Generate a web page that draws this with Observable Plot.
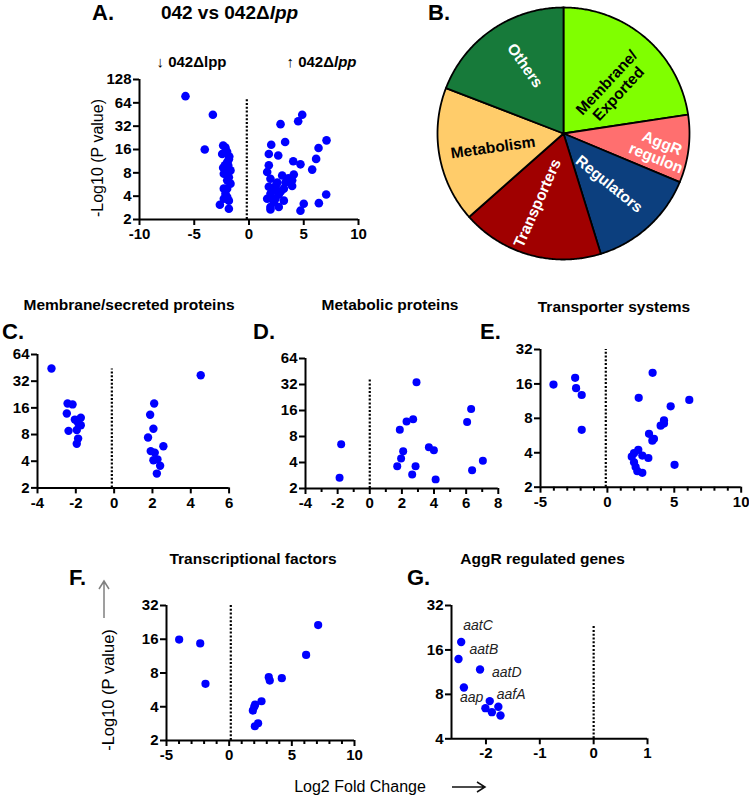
<!DOCTYPE html>
<html><head><meta charset="utf-8">
<script src="https://cdn.jsdelivr.net/npm/d3@7"></script>
<script src="https://cdn.jsdelivr.net/npm/@observablehq/plot@0.6"></script>
<style>
html,body{margin:0;padding:0;background:#fff;}
#root{position:relative;width:749px;height:797px;overflow:hidden;background:#fff;}
#root > svg{position:absolute;margin:0;}
</style></head><body><div id="root"></div>
<script>
// ---------- DATA ----------
// Panel A: all genes [log2 fold change, -log10 p]
const panelA = [
  [-5.8,78],[-3.3,45],[-4.04,16],
  [-2.36,18],[-2.15,17],[-2.45,14],[-2.0,15],[-1.84,12],[-1.99,11],[-1.8,13],[-2.36,9.3],[-2.15,9],
  [-1.69,8.6],[-2.2,10],[-1.9,10],[-2.3,7.8],[-1.84,7],[-1.99,6.4],[-1.69,5.8],[-2.3,5],[-2.0,5],
  [-2.15,4.3],[-1.99,3.9],[-2.3,3.7],[-1.84,3.5],[-2.66,3.1],[-1.84,2.75],
  [4.86,45],[4.49,37],[2.88,34],[7.08,21],[3.3,20],[2.03,18.4],[6.35,16.7],[1.81,14],[2.67,13.4],
  [6.13,12.1],[4.04,11.3],[4.7,10.3],[5.77,8.8],[1.81,10],[1.66,8.2],[1.96,6.7],[3.03,7.4],[4.09,7.6],
  [3.94,6.4],[3.33,6],[2.58,6],[1.81,5.3],[2.42,5.2],[3.18,5],[3.94,5.4],[1.96,4.3],[2.72,4.2],
  [1.66,3.7],[2.42,3.7],[3.18,3.5],[7.05,4.2],[6.38,3.25],[5.0,3.2],[1.96,2.9],[2.72,2.9],[4.7,2.6],
  [1.96,2.7],[2.27,3.35],[2.2,4.8],[2.9,4.6],[3.6,6.8],[2.5,5.7],[2.0,4.0]
];
// Panel C: membrane/secreted proteins
const panelC = [
  [-3.27,44.5],[-2.43,17.9],[-2.17,17.5],[-2.47,13.8],[-2.05,11.8],[-1.74,12.4],[-1.74,10.2],[-1.9,11],
  [-2.38,8.8],[-1.95,9],[-1.88,7.2],[-1.95,6.3],
  [4.52,37.4],[2.09,17.9],[1.88,13.4],[2.05,9.3],[1.77,7.4],[2.57,5.9],[1.91,5.2],[2.12,5],[2.05,4.1],
  [2.26,4.2],[2.4,3.55],[2.23,2.9]
];
// Panel D: metabolic proteins
const panelD = [
  [-1.78,6.5],[-1.88,2.66],[2.91,34],[1.87,9.6],[2.29,11.9],[2.7,12.7],[2.08,5.4],[1.95,4.45],[1.71,3.63],
  [2.85,3.63],[2.64,2.9],[3.68,6.0],[3.99,5.55],[4.1,2.55],[6.06,11.8],[6.31,16.6],[6.37,3.26],[7.04,4.2]
];
// Panel E: transporter systems
const panelE = [
  [-4.03,15.8],[-2.41,18.1],[-2.34,14.7],[-1.92,12.8],[-1.92,6.35],[3.38,20],[2.34,12.1],[6.12,11.6],
  [4.73,10.2],[4.23,7.7],[3.98,6.9],[4.23,7.2],[3.11,5.86],[3.48,5.3],[3.36,5.1],[2.31,4.24],[1.99,3.97],
  [2.61,3.78],[1.82,3.7],[3.06,3.6],[1.99,3.3],[2.11,3.0],[2.24,2.76],[2.61,2.67],[5.02,3.14]
];
// Panel F: transcriptional factors
const panelF = [
  [-3.99,15.9],[-2.31,14.7],[-1.89,6.4],[7.1,21.4],[6.14,11.6],[3.16,7.35],[3.24,6.85],[4.2,7.2],
  [2.58,4.48],[2.07,4.17],[1.89,3.7],[2.0,4.0],[2.31,2.85],[2.05,2.68]
];
// Panel G: AggR regulated genes
const panelG = [
  [-2.46,18.1],[-2.51,13.9],[-2.11,11.8],[-2.41,8.9],[-1.93,7.2],[-1.77,6.6],[-2.01,6.45],[-1.89,6.06],[-1.73,5.75]
];
const gLabels = ["aatC","aatB","aatD","aap","aafA"];
// Panel B: functional categories
const pieCats = ["Membrane/Exported","AggR regulon","Regulators","Transporters","Metabolism","Others"];
const pieCounts = [26,10,16,21,20,22];
const pieLabels = ["Membrane/\nExported","AggR\nregulon","Regulators","Transporters","Metabolism","Others"];
// tick labels
const ticksA = {x:[-10,-5,0,5,10], y:[2,4,8,16,32,64,128]};
const ticksC = {x:[-4,-2,0,2,4,6], y:[2,4,8,16,32,64]};
const ticksD = {x:[-4,-2,0,2,4,6,8], y:[2,4,8,16,32,64]};
const ticksE = {x:[-5,0,5,10], y:[2,4,8,16,32]};
const ticksF = {x:[-5,0,5,10], y:[2,4,8,16,32]};
const ticksG = {x:[-2,-1,0,1], y:[4,8,16,32]};

// ---------- STYLE / LAYOUT ----------
const FONT = '"Liberation Sans", Arial, Helvetica, sans-serif';
const pieColors = ["#80ff00","#ff6f6f","#0c3f7e","#a00000","#ffcc6a","#177a3a"];
const pieLabStyle = [
  {r:0.53, da:6.5, rot:-47, fill:"black"},
  {r:0.77, da:3, rot:22, fill:"white"},
  {r:0.54, da:0, rot:39, fill:"white"},
  {r:0.59, da:5, rot:-66, fill:"white"},
  {r:0.57, da:-1, rot:-8, fill:"black"},
  {r:0.62, da:5, rot:55, fill:"white"}
];
const gOffsets = [[2,-17],[11,-9],[12,3],[-4,10],[7,-7]];
const root = document.getElementById("root");

function volcano(data, cfg) {
  const ml = 60, mr = 14, mt = 12, mb = 34;
  const [X0, X1, Y0, Y1] = cfg.frame;
  const w = X1 - X0 + ml + mr, h = Y0 - Y1 + mt + mb;
  const pts = data.map(([fc, p]) => ({fc, p}));
  const marks = [];
  if (cfg.minor) marks.push(Plot.axisX({ticks: cfg.minor, tickSize: 4, strokeWidth: 2, tickFormat: () => "", label: null}));
  marks.push(
    Plot.axisX({ticks: cfg.ticks.x, tickSize: 6, strokeWidth: 2, tickPadding: 3, label: null, fontSize: 15, fontWeight: "bold", tickFormat: d => String(d)}),
    Plot.axisY({ticks: cfg.ticks.y, tickSize: 6, strokeWidth: 2, tickPadding: 2, label: null, fontSize: 15, fontWeight: "bold", tickFormat: d => String(d)}),
    Plot.ruleY([cfg.ydomain[0]], {strokeWidth: 2}),
    Plot.ruleX([cfg.xdomain[0]], {strokeWidth: 2}),
    Plot.ruleX([cfg.dash[0]], {y1: cfg.ydomain[0], y2: cfg.dash[1], strokeWidth: 2.2, strokeDasharray: "2,1.8"}),
    Plot.dot(pts, {x: "fc", y: "p", r: cfg.r, fill: "#0000ff"})
  );
  if (cfg.extra) marks.push(...cfg.extra(pts));
  const svg = Plot.plot({
    width: w, height: h, marginLeft: ml, marginRight: mr, marginTop: mt, marginBottom: mb,
    x: {domain: cfg.xdomain},
    y: {type: "log", base: 2, domain: cfg.ydomain},
    style: {fontFamily: FONT, fontSize: "15px", fontWeight: "bold", color: "black", background: "transparent", overflow: "visible"},
    marks
  });
  svg.style.left = (X0 - ml) + "px";
  svg.style.top = (Y1 - mt) + "px";
  root.appendChild(svg);
}

const intsMinor = (a, b, step) => d3.range(a, b + 1).filter(v => v % step !== 0);

volcano(panelA, {frame: [139, 358, 219, 79], xdomain: [-10, 10], ydomain: [2, 128], ticks: ticksA, dash: [-0.2, 72], r: 4.3});
volcano(panelC, {frame: [36.7, 228.3, 487.7, 354.3], xdomain: [-4, 6], ydomain: [2, 64], ticks: ticksC, dash: [-0.12, 44], r: 4.2});
volcano(panelD, {frame: [305, 497.8, 488.3, 358.3], xdomain: [-4, 8], ydomain: [2, 64], ticks: ticksD, minor: intsMinor(-4, 8, 2), dash: [0, 36], r: 4.0});
volcano(panelE, {frame: [540, 740.7, 486.7, 349], xdomain: [-5, 10], ydomain: [2, 32], ticks: ticksE, minor: intsMinor(-5, 10, 5), dash: [-0.12, 32], r: 4.1});
volcano(panelF, {frame: [166, 354, 740, 605], xdomain: [-5, 10], ydomain: [2, 32], ticks: ticksF, minor: intsMinor(-5, 10, 5), dash: [0.13, 32], r: 4.1});
volcano(panelG, {frame: [450.7, 646.7, 738.3, 605], xdomain: [-2.64, 1], ydomain: [4, 32], ticks: ticksG, dash: [0, 23.4], r: 4.2,
  extra: pts => gLabels.map((lab, i) => Plot.text([pts[i]], {x: "fc", y: "p", text: () => lab, dx: gOffsets[i][0], dy: gOffsets[i][1],
    textAnchor: "start", fontStyle: "italic", fontWeight: "normal", fontSize: 14, fill: "#222"}))
});

// ---------- PIE (panel B) ----------
const arcs = d3.pie().sort(null)(pieCounts);
const poly = [];
const pieText = [];
arcs.forEach((a, i) => {
  const cat = pieCats[i];
  poly.push({cat, x: 0, y: 0});
  const n = Math.max(2, Math.ceil((a.endAngle - a.startAngle) / 0.01));
  for (let k = 0; k <= n; k++) {
    const t = a.startAngle + (a.endAngle - a.startAngle) * k / n;
    poly.push({cat, x: Math.sin(t), y: Math.cos(t)});
  }
  const s = pieLabStyle[i];
  const mid = (a.startAngle + a.endAngle) / 2 + s.da * Math.PI / 180;
  pieText.push({label: pieLabels[i], x: s.r * Math.sin(mid), y: s.r * Math.cos(mid), rot: s.rot, fill: s.fill});
});
const pie = Plot.plot({
  width: 260, height: 260, margin: 4,
  x: {domain: [-1, 1], axis: null},
  y: {domain: [-1, 1], axis: null},
  color: {domain: pieCats, range: pieColors},
  style: {fontFamily: FONT, background: "transparent", overflow: "visible"},
  marks: [
    Plot.line(poly, {x: "x", y: "y", z: "cat", fill: "cat", stroke: "black", strokeWidth: 1.8, curve: "linear-closed", strokeLinejoin: "round"}),
    Plot.text(pieText.filter(d => d.fill === "white"), {x: "x", y: "y", text: "label", rotate: "rot", fill: "white", fontWeight: "bold", fontSize: 15.5, lineHeight: 1.05}),
    Plot.text(pieText.filter(d => d.fill === "black"), {x: "x", y: "y", text: "label", rotate: "rot", fill: "black", fontWeight: "bold", fontSize: 15.5, lineHeight: 1.05})
  ]
});
pie.style.left = (563 - 130) + "px";
pie.style.top = (133 - 130) + "px";
root.appendChild(pie);

// ---------- TEXT OVERLAY ----------
const ov = d3.select(root).append("svg").attr("width", 749).attr("height", 797)
  .style("position", "absolute").style("left", "0px").style("top", "0px").style("pointer-events", "none")
  .attr("font-family", FONT);
function T(x, y, parts, o = {}) {
  const t = ov.append("text").attr("x", x).attr("y", y)
    .attr("font-size", o.size || 15).attr("font-weight", o.weight || "bold")
    .attr("text-anchor", o.anchor || "start").attr("fill", o.fill || "black");
  if (o.rotate) t.attr("transform", `rotate(${o.rotate},${x},${y})`).attr("dominant-baseline", "central");
  if (typeof parts === "string") parts = [[parts, false]];
  parts.forEach(([s, it]) => t.append("tspan").attr("font-style", it ? "italic" : "normal").text(s));
  return t;
}
// panel letters
T(92, 20, "A.", {size: 22});
T(428, 20, "B.", {size: 22});
T(2, 339, "C.", {size: 22});
T(253, 339, "D.", {size: 22});
T(480, 339, "E.", {size: 22});
T(69, 585, "F.", {size: 22});
T(407, 585, "G.", {size: 22});
// panel A texts
T(229.5, 18.5, [["042 vs 042Δ", false], ["lpp", true]], {size: 19, anchor: "middle"});
T(191.5, 66.5, [["↓ 042Δlpp", false]], {size: 15, anchor: "middle"});
T(321.5, 66.5, [["↑ 042Δ", false], ["lpp", true]], {size: 15, anchor: "middle"});
T(96.5, 158, "-Log10 (P value)", {size: 16, weight: "normal", anchor: "middle", rotate: -90});
// panel titles
T(129, 310, "Membrane/secreted proteins", {size: 15.5, anchor: "middle"});
T(390, 310, "Metabolic proteins", {size: 15.5, anchor: "middle"});
T(614, 312, "Transporter systems", {size: 15.5, anchor: "middle"});
T(253, 564, "Transcriptional factors", {size: 15.5, anchor: "middle"});
T(542.5, 564, "AggR regulated genes", {size: 15.5, anchor: "middle"});
// shared axis labels
T(108, 690, "-Log10 (P value)", {size: 16.5, weight: "normal", anchor: "middle", rotate: -90});
T(360, 792, "Log2 Fold Change", {size: 16, weight: "normal", anchor: "middle"});
// arrows
ov.append("path").attr("d", "M104,618 L104,581 M99,589 L104,581 L109,589")
  .attr("fill", "none").attr("stroke", "#808080").attr("stroke-width", 1.5);
ov.append("path").attr("d", "M452,787 L485,787 M477,782 L485,787 L477,792")
  .attr("fill", "none").attr("stroke", "#111").attr("stroke-width", 1.5);
</script></body></html>
